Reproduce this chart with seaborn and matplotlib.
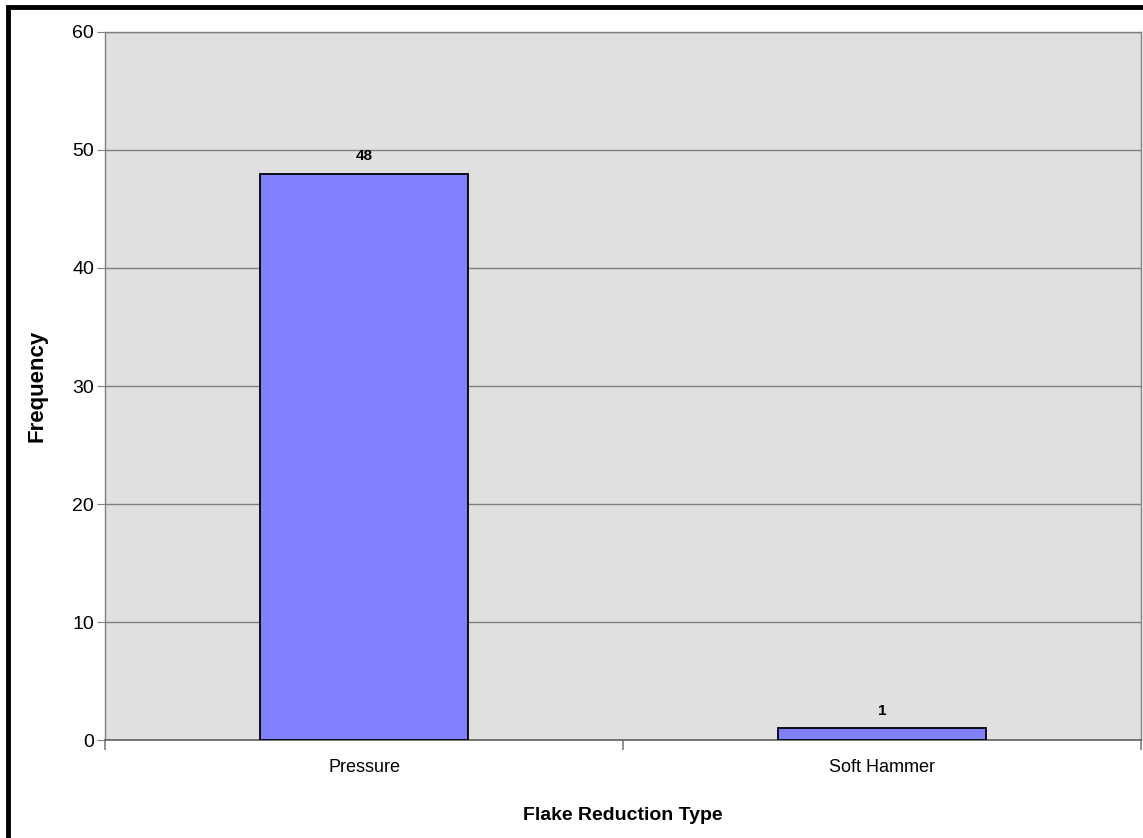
import matplotlib
matplotlib.use("Agg")
import matplotlib.pyplot as plt
import seaborn as sns
import pandas as pd
from matplotlib.patches import Rectangle

# data
types = ["Pressure", "Soft Hammer"]
counts = [48, 1]

df = pd.DataFrame({"type": types, "count": counts})

sns.set_style("white")
plt.rcParams["font.family"] = ["Liberation Sans", "DejaVu Sans"]
plt.rcParams["text.color"] = "black"
plt.rcParams["axes.labelcolor"] = "black"
plt.rcParams["xtick.color"] = "black"
plt.rcParams["ytick.color"] = "black"

fig = plt.figure(figsize=(11.43, 8.38), dpi=100)
ax = fig.add_axes([105 / 1143, 1 - 740 / 838, (1141 - 105) / 1143, (740 - 32) / 838])
ax.set_facecolor("#e0e0e0")

sns.barplot(data=df, x="type", y="count", color="#8080ff", width=0.4,
            edgecolor="black", linewidth=1.3, saturation=1, ax=ax, zorder=3)

ax.set_ylim(0, 60)
ax.set_xlim(-0.5, 1.5)
ax.set_yticks(range(0, 61, 10))
ax.yaxis.grid(True, color="#808080", linewidth=1)
ax.set_axisbelow(True)

# category ticks sit between categories, labels at centres
ax.set_xticks([-0.5, 0.5, 1.5], minor=True)
ax.tick_params(axis="x", which="minor", bottom=True, length=7, width=1.2,
               color="#808080", direction="out")
ax.tick_params(axis="x", which="major", length=0, labelsize=13, pad=14)
ax.tick_params(axis="y", length=6, color="#808080", direction="out", labelsize=14,
               pad=2, left=True, labelcolor="black")
ax.tick_params(axis="x", labelcolor="black")

for s in ["top", "right", "left"]:
    ax.spines[s].set_color("#808080")
    ax.spines[s].set_linewidth(1)
ax.spines["bottom"].set_color("#606060")
ax.spines["bottom"].set_linewidth(1.2)

for i, v in enumerate(counts):
    ax.text(i, v + 0.9, str(v), ha="center", va="bottom", fontsize=11,
            fontweight="bold", color="black")

ax.set_xlabel("Flake Reduction Type", fontsize=14, fontweight="bold", labelpad=22)
ax.set_ylabel("Frequency", fontsize=16, fontweight="bold", labelpad=18)

# thick black frame round the whole picture
fig.patches.append(Rectangle((8 / 1143, -0.05), 1.2, 1 - 7 / 838 + 0.05, transform=fig.transFigure,
                             fill=False, edgecolor="black", linewidth=3.5, zorder=10))

fig.savefig("out.png", dpi=100)
